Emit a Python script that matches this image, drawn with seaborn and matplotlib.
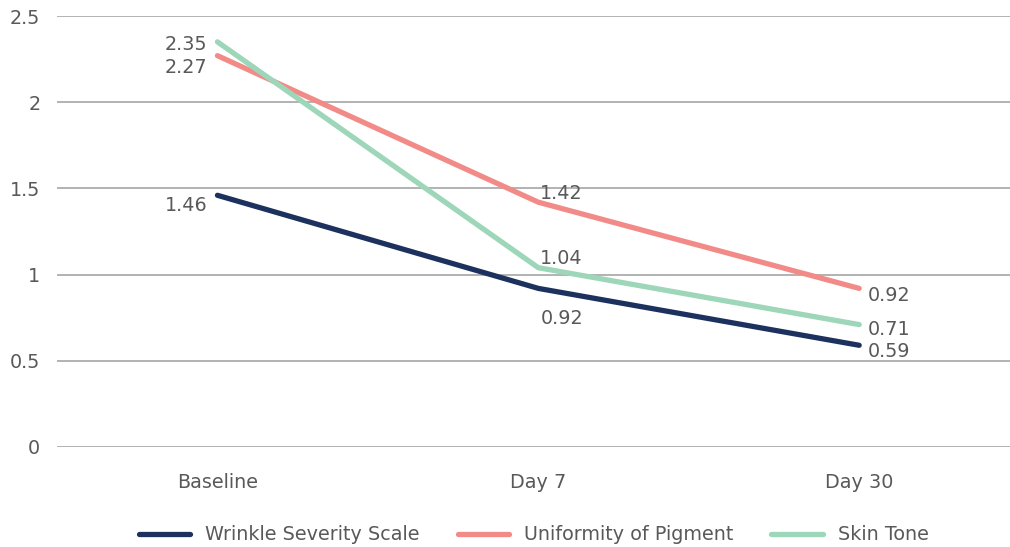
import matplotlib
matplotlib.use("Agg")
import matplotlib.pyplot as plt
import seaborn as sns
import pandas as pd

categories = ["Baseline", "Day 7", "Day 30"]
wrinkle = [1.46, 0.92, 0.59]
pigment = [2.27, 1.42, 0.92]
skin = [2.35, 1.04, 0.71]
series_names = ["Wrinkle Severity Scale", "Uniformity of Pigment", "Skin Tone"]
y_ticks = [0, 0.5, 1, 1.5, 2, 2.5]
y_tick_labels = ["0", "0.5", "1", "1.5", "2", "2.5"]

sns.set_theme(style="white")
plt.rcParams["font.family"] = ["DejaVu Sans"]

colors = ["#1d315e", "#f28b87", "#9dd6b8"]
text_color = "#595959"

rows = []
for name, vals in zip(series_names, [wrinkle, pigment, skin]):
    for i, (c, v) in enumerate(zip(categories, vals)):
        rows.append({"cat": c, "x": i, "value": v, "series": name})
df = pd.DataFrame(rows)

fig = plt.figure(figsize=(10.10, 5.47), dpi=100)
ax = fig.add_axes([57 / 1010, 100 / 547, 1 - 57 / 1010, (447 - 16) / 547])

sns.lineplot(data=df, x="x", y="value", hue="series", palette=colors,
             hue_order=series_names, linewidth=3.8, ax=ax, legend=True,
             solid_capstyle="round")

ax.set_xlim(-0.5, 2.47)
ax.set_ylim(0, 2.5)
ax.set_yticks(y_ticks)
ax.set_yticklabels(y_tick_labels)
ax.set_xticks(range(len(categories)))
ax.set_xticklabels(categories)
ax.set_xlabel("")
ax.set_ylabel("")
ax.yaxis.grid(True, color="#a6a6a6", linewidth=1.2)
ax.set_axisbelow(True)
for s in ax.spines.values():
    s.set_visible(False)
fs = 13.8
ax.tick_params(axis="both", length=0, labelsize=fs, labelcolor=text_color)
ax.tick_params(axis="y", pad=12)
ax.tick_params(axis="x", pad=19)

px = 0.72  # points per pixel


def lab(x, v, dx, dy, ha):
    ax.annotate(f"{v:.2f}", (x, v), xytext=(dx * px, -dy * px), textcoords="offset points",
                ha=ha, va="center", fontsize=fs, color=text_color)


# Baseline labels: left of point
lab(0, skin[0], -10, 3, "right")
lab(0, pigment[0], -10, 12, "right")
lab(0, wrinkle[0], -10, 10, "right")
# Day 7
lab(1, pigment[1], 2, -9, "left")
lab(1, skin[1], 2, -9, "left")
lab(1, wrinkle[1], 2, 30, "left")
# Day 30
lab(2, pigment[2], 9, 7, "left")
lab(2, skin[2], 9, 5, "left")
lab(2, wrinkle[2], 9, 6, "left")

handles, labels = ax.get_legend_handles_labels()
ax.legend(handles, labels, loc="center", bbox_to_anchor=(0.5, -0.204),
          ncol=3, frameon=False, fontsize=fs, labelcolor=text_color,
          handlelength=2.7, handletextpad=0.75, columnspacing=2.0)

fig.savefig("out.png", dpi=100)
